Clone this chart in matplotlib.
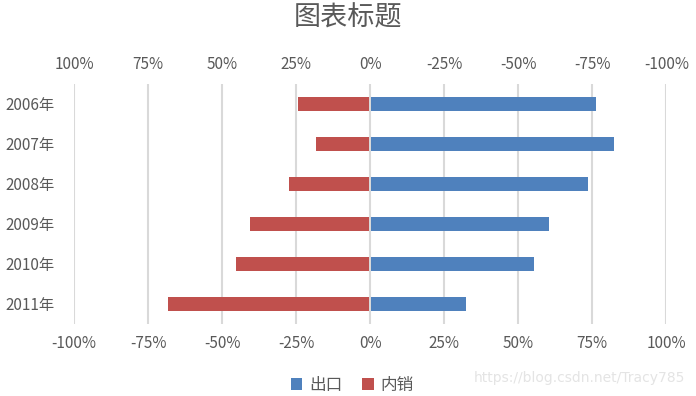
import numpy as np
import matplotlib.pyplot as plt
from matplotlib.ticker import FuncFormatter

plt.rcParams['font.family'] = ['Noto Sans CJK SC', 'DejaVu Sans']

# Data
years = ["2006年", "2007年", "2008年", "2009年", "2010年", "2011年"]
export = [76, 82, 73, 60, 55, 32]      # 出口 (%)
domestic = [24, 18, 27, 40, 45, 68]    # 内销 (%)

blue = "#4F81BD"
red = "#C0504D"
txt = "#595959"

fig = plt.figure(figsize=(6.96, 3.96), dpi=100)
ax = fig.add_axes([0.1063, 0.182, 0.851, 0.606])

y = np.arange(len(years))
ax.barh(y, export, height=0.35, left=0.4, color=blue, zorder=3, label="出口")
ax.barh(y, [-v for v in domestic], height=0.35, left=-0.4, color=red, zorder=3, label="内销")

ax.set_xlim(-100, 100)
ax.set_ylim(len(years) - 0.5, -0.5)
ax.set_yticks(y)
ax.set_yticklabels(years, fontsize=11.5)
ax.set_xticks(np.arange(-100, 101, 25))
ax.xaxis.set_major_formatter(FuncFormatter(lambda v, p: f"{int(v)}%"))
ax.grid(axis="x", color="#d9d9d9", linewidth=1.5, zorder=0)
for s in ax.spines.values():
    s.set_visible(False)
ax.tick_params(length=0, labelsize=11, colors=txt, pad=8)
ax.tick_params(axis="y", pad=14)

# top axis shows the mirrored scale
top = ax.secondary_xaxis("top", functions=(lambda v: -v, lambda v: -v))
top.set_xticks(np.arange(-100, 101, 25))
top.xaxis.set_major_formatter(FuncFormatter(lambda v, p: f"{int(v)}%"))
top.tick_params(length=0, labelsize=11, colors=txt, pad=8)
for s in top.spines.values():
    s.set_visible(False)

fig.text(0.5, 0.955, "图表标题", ha="center", va="center", fontsize=19.5, color=txt)

ax.legend(loc="center", bbox_to_anchor=(0.47, -0.255), ncol=2, frameon=False,
          fontsize=12, labelcolor=txt, handlelength=0.7, handleheight=0.7,
          handletextpad=0.4, columnspacing=1.2)

fig.text(0.985, 0.045, "https://blog.csdn.net/Tracy785", ha="right", va="center",
         fontsize=10, color="#e4e4e4", family=["DejaVu Sans"])

fig.savefig("out.png", dpi=100)
